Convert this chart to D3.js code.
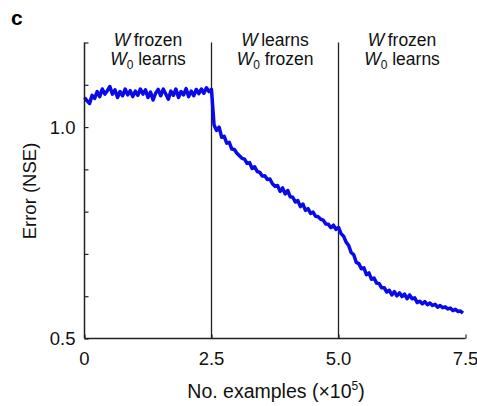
<!DOCTYPE html>
<html>
<head>
<meta charset="utf-8">
<script src="https://cdn.jsdelivr.net/npm/d3@7"></script>
<style>
  html, body { margin: 0; padding: 0; background: #fff; }
  svg { display: block; font-family: "Liberation Sans", Arial, Helvetica, sans-serif; }
</style>
</head>
<body>
<svg id="chart" width="477" height="406"></svg>
<script>
// Training error (normalised squared error) over three training phases.
const sampleStep = 0.05; // ×10^5 examples between samples

// Phase 1: W frozen, W0 learns (0 – 2.5)
const phase1Error = [
  1.070, 1.062, 1.056, 1.075, 1.068, 1.084, 1.072, 1.090, 1.078, 1.086,
  1.096, 1.078, 1.088, 1.070, 1.084, 1.074, 1.090, 1.076, 1.086, 1.072,
  1.085, 1.075, 1.090, 1.078, 1.088, 1.070, 1.083, 1.064, 1.080, 1.089,
  1.074, 1.090, 1.078, 1.066, 1.085, 1.075, 1.090, 1.070, 1.084, 1.076,
  1.091, 1.072, 1.085, 1.074, 1.089, 1.079, 1.090, 1.080, 1.093, 1.084,
  1.089
];
// Phase 2: W learns, W0 frozen (2.55 – 5.0)
const phase2Error = [
  1.005, 0.992, 1.000, 0.976, 0.978, 0.962, 0.964, 0.948, 0.947, 0.938,
  0.932, 0.926, 0.924, 0.914, 0.916, 0.902, 0.906, 0.895, 0.893, 0.884,
  0.885, 0.876, 0.877, 0.866, 0.860, 0.862, 0.848, 0.856, 0.842, 0.850,
  0.835, 0.834, 0.823, 0.826, 0.812, 0.818, 0.803, 0.807, 0.796, 0.799,
  0.789, 0.788, 0.782, 0.780, 0.771, 0.770, 0.762, 0.768, 0.758, 0.763
];
// Phase 3: W frozen, W0 learns (5.05 – 7.45)
const phase3Error = [
  0.748, 0.742, 0.728, 0.720, 0.703, 0.698, 0.680, 0.677, 0.665, 0.667,
  0.651, 0.655, 0.640, 0.643, 0.631, 0.630, 0.620, 0.620, 0.610, 0.614,
  0.603, 0.611, 0.601, 0.608, 0.599, 0.605, 0.594, 0.603, 0.594, 0.596,
  0.585, 0.588, 0.582, 0.587, 0.580, 0.584, 0.578, 0.581, 0.574, 0.578,
  0.573, 0.575, 0.570, 0.572, 0.566, 0.569, 0.564, 0.565, 0.560
];

const xTicks = [0, 2.5, 5.0, 7.5];
const xTickLabels = ["0", "2.5", "5.0", "7.5"];
const yTicks = [0.5, 0.6, 0.7, 0.8, 0.9, 1.0, 1.1, 1.2];
const yTickLabels = { 0.5: "0.5", 1.0: "1.0" };
const phaseBoundaries = [2.5, 5.0];
const phaseLabels = [
  { center: 1.25, w: "frozen", w0: "learns" },
  { center: 3.75, w: "learns", w0: "frozen" },
  { center: 6.25, w: "frozen", w0: "learns" }
];

const errorSeries = phase1Error.concat(phase2Error, phase3Error)
  .map((v, i) => ({ x: i * sampleStep, y: v }));

const svg = d3.select("#chart");
const x = d3.scaleLinear().domain([0, 7.5]).range([84.5, 465.5]);
const y = d3.scaleLinear().domain([0.5, 1.2]).range([338.5, 42.5]);
const axisColor = "#222";
const labelSize = 18.5;

// Panel letter
svg.append("text").attr("x", 11).attr("y", 25)
  .attr("font-size", 21).attr("font-weight", "bold").text("c");

// Phase boundaries
svg.append("g").selectAll("line").data(phaseBoundaries).join("line")
  .attr("x1", d => x(d)).attr("x2", d => x(d))
  .attr("y1", y(1.2)).attr("y2", y(0.5))
  .attr("stroke", axisColor).attr("stroke-width", 1.3);

// Error curve
svg.append("path").datum(errorSeries)
  .attr("fill", "none").attr("stroke", "#0a0ae8")
  .attr("stroke-width", 3.5).attr("stroke-linejoin", "round")
  .attr("d", d3.line().x(d => x(d.x)).y(d => y(d.y)));

// Y axis (ticks pointing inwards)
const yAxis = svg.append("g").attr("transform", `translate(${x(0)},0)`)
  .call(d3.axisRight(y).tickValues(yTicks).tickSize(4).tickFormat(""));
yAxis.select(".domain").attr("d", `M0,${y(1.2)}V${y(0.5)}`)
  .attr("stroke", axisColor).attr("stroke-width", 1.5);
yAxis.selectAll(".tick line").attr("stroke", axisColor).attr("stroke-width", 1.2);
svg.append("g").selectAll("text").data(yTicks.filter(t => yTickLabels[t]))
  .join("text")
  .attr("x", x(0) - 9).attr("y", d => y(d)).attr("dy", "0.36em")
  .attr("text-anchor", "end").attr("font-size", labelSize).attr("fill", "#111")
  .text(d => yTickLabels[d]);

// X axis (ticks pointing inwards)
const xAxis = svg.append("g").attr("transform", `translate(0,${y(0.5)})`)
  .call(d3.axisTop(x).tickValues(xTicks).tickSize(4).tickFormat(""));
xAxis.select(".domain").attr("d", `M${x(0)},0H${x(7.5)}`)
  .attr("stroke", axisColor).attr("stroke-width", 1.5);
xAxis.selectAll(".tick line").attr("stroke", axisColor).attr("stroke-width", 1.2);
svg.append("g").selectAll("text").data(xTicks).join("text")
  .attr("x", d => x(d)).attr("y", 365)
  .attr("text-anchor", "middle").attr("font-size", labelSize).attr("fill", "#111")
  .text((d, i) => xTickLabels[i]);

// Axis titles
svg.append("text")
  .attr("transform", "translate(36,191) rotate(-90)")
  .attr("text-anchor", "middle").attr("font-size", labelSize).attr("fill", "#111")
  .text("Error (NSE)");
const xTitle = svg.append("text").attr("x", 276).attr("y", 398)
  .attr("text-anchor", "middle").attr("font-size", 19.5).attr("fill", "#111");
xTitle.append("tspan").text("No. examples (\u00d710");
xTitle.append("tspan").attr("font-size", 12).attr("dy", -8).text("5");
xTitle.append("tspan").attr("dy", 8).text(")");

// Phase headers
const headers = svg.append("g").selectAll("g").data(phaseLabels).join("g");
const line1 = headers.append("text").attr("x", d => x(d.center)).attr("y", 46)
  .attr("text-anchor", "middle").attr("font-size", 17.5).attr("fill", "#111");
line1.append("tspan").attr("font-style", "italic").text("W");
line1.append("tspan").text(d => "\u2009" + d.w);
const line2 = headers.append("text").attr("x", d => x(d.center)).attr("y", 65)
  .attr("text-anchor", "middle").attr("font-size", 17.5).attr("fill", "#111");
line2.append("tspan").attr("font-style", "italic").text("W");
line2.append("tspan").attr("font-size", 12).attr("dy", 4).text("0");
line2.append("tspan").attr("dy", -4).text(d => " " + d.w0);
</script>
</body>
</html>
